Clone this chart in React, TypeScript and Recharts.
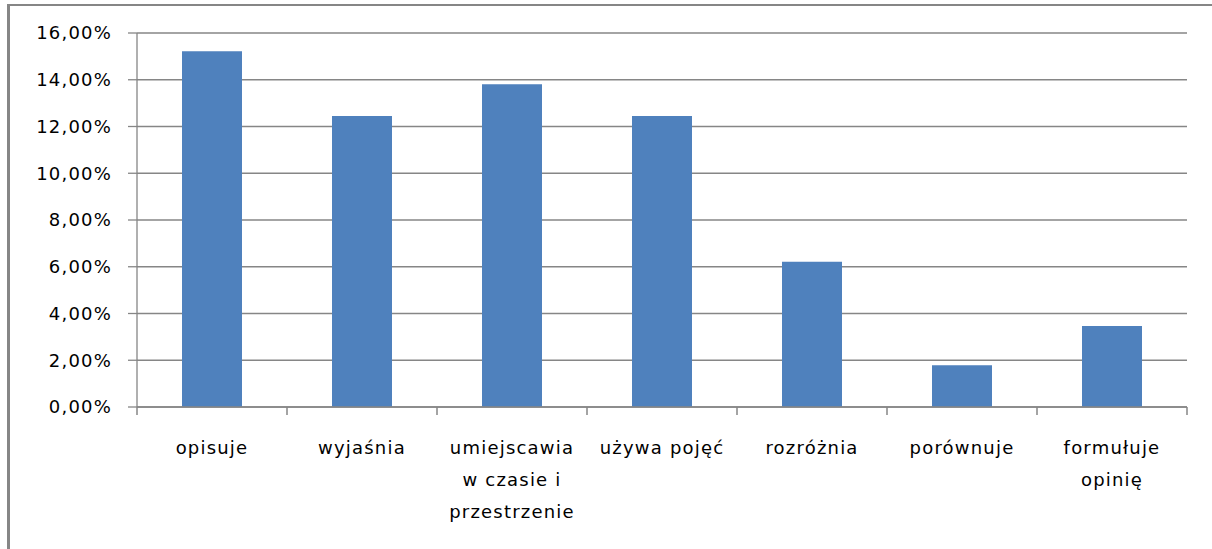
import React from 'react';
import { BarChart, Bar, XAxis, YAxis, CartesianGrid } from 'recharts';

const categories = [
  'opisuje',
  'wyjaśnia',
  'umiejscawia\nw czasie i\nprzestrzenie',
  'używa pojęć',
  'rozróżnia',
  'porównuje',
  'formułuje\nopinię',
];
const values = [0.1522, 0.1245, 0.1381, 0.1245, 0.0621, 0.0179, 0.0347];
const yTicks = [0, 0.02, 0.04, 0.06, 0.08, 0.1, 0.12, 0.14, 0.16];

const data = categories.map((c, i) => ({ name: c, value: values[i] }));

const FONT = '"DejaVu Sans", sans-serif';
const GRAY = '#868686';

const fmt = (v: number) => (v * 100).toFixed(2).replace('.', ',') + '%';

const CatTick = (props: any) => {
  const { x, y, payload, index, visibleTicksCount } = props;
  const lines = String(payload.value).split('\n');
  const off = payload.offset || 0;
  const last = index === (visibleTicksCount ?? categories.length) - 1;
  return (
    <g>
      <line x1={x - off} x2={x - off} y1={y} y2={y + 8} stroke={GRAY} strokeWidth={1.5} />
      {last && <line x1={x + off} x2={x + off} y1={y} y2={y + 8} stroke={GRAY} strokeWidth={1.5} />}
      <text x={x} y={y} textAnchor="middle" fontFamily={FONT} fontSize={18} letterSpacing={1.2} fill="#000">
        {lines.map((l, i) => (
          <tspan key={i} x={x} dy={i === 0 ? 47 : 32}>
            {l}
          </tspan>
        ))}
      </text>
    </g>
  );
};

export default function App() {
  return (
    <div style={{ position: 'absolute', left: 0, top: 0, width: 1212, height: 549, overflow: 'hidden', background: '#fff' }}>
      <div
        style={{
          position: 'absolute',
          left: 7,
          top: 4,
          width: 1300,
          height: 700,
          borderLeft: `3px solid ${GRAY}`,
          borderTop: `2px solid ${GRAY}`,
          boxSizing: 'border-box',
        }}
      />
      <div style={{ position: 'absolute', left: 0, top: 0 }}>
        <BarChart
          width={1212}
          height={549}
          data={data}
          margin={{ top: 33, right: 25, left: 0, bottom: 42 }}
          barCategoryGap="30%"
        >
          <CartesianGrid horizontal vertical={false} stroke={GRAY} strokeWidth={1.3} />
          <XAxis
            dataKey="name"
            height={100}
            interval={0}
            tickLine={false}
            tickSize={0}
            tickMargin={0}
            axisLine={{ stroke: GRAY, strokeWidth: 1.5 }}
            tick={<CatTick />}
          />
          <YAxis
            domain={[0, 0.16]}
            ticks={yTicks}
            tickFormatter={fmt}
            width={137}
            tickSize={9}
            tickMargin={16}
            interval={0}
            tickLine={{ stroke: GRAY, strokeWidth: 1.3 }}
            axisLine={{ stroke: GRAY, strokeWidth: 1.3 }}
            tick={{ fontFamily: FONT, fontSize: 18, letterSpacing: 1.2, fill: '#000' }}
          />
          <Bar dataKey="value" fill="#4F81BD" isAnimationActive={false} />
        </BarChart>
      </div>
    </div>
  );
}
